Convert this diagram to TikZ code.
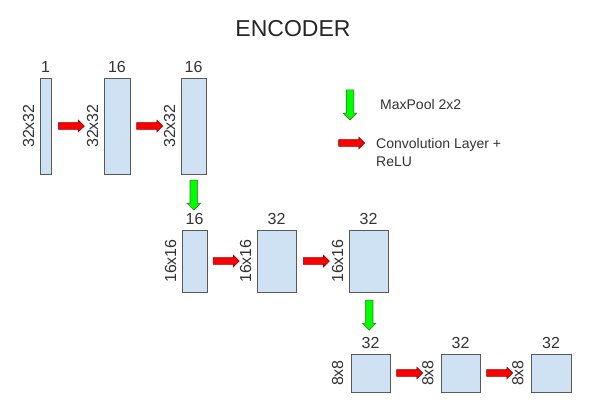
\documentclass[tikz,border=0pt]{standalone}
\usepackage{fontspec}
\setmainfont{Liberation Sans}
\usetikzlibrary{positioning,shapes.arrows}
\definecolor{boxblue}{HTML}{CFE2F3}
\definecolor{boxline}{HTML}{595959}
\definecolor{convred}{HTML}{FF0000}
\definecolor{convdark}{HTML}{990000}
\definecolor{poolgreen}{HTML}{00FF00}
\definecolor{pooldark}{HTML}{38761D}
\definecolor{txt}{HTML}{333333}
\tikzset{
  layer/.style={draw=boxline, fill=boxblue, line width=0.8pt, inner sep=0pt},
  convarrow/.style={single arrow, draw=convdark, fill=convred, line width=0.6pt,
    inner xsep=0pt, inner ysep=3pt, minimum height=26pt,
    single arrow head extend=2.5pt},
  poolarrow/.style={single arrow, draw=pooldark, fill=poolgreen, line width=0.6pt,
    inner xsep=0pt, inner ysep=3.5pt, minimum height=30pt,
    single arrow head extend=3pt, rotate=-90},
  chan/.style={text=txt, font=\fontsize{16}{19}\selectfont, inner sep=0pt},
  size/.style={chan, rotate=90, anchor=south},
  legend/.style={text=txt, font=\fontsize{14}{18}\selectfont, inner sep=0pt},
}
\begin{document}
\begin{tikzpicture}[x=1pt, y=-1pt]
    \fill[white] (0,0) rectangle (591,410);
    \useasboundingbox (0,0) rectangle (591,410);
    \node[text=black!85, font=\fontsize{23}{27}\selectfont, inner sep=0pt, anchor=base] (title) at (293,36) {ENCODER};
    % first block, 32x32
    \node[layer, minimum width=11pt, minimum height=96pt] (c1) at (45.5,126) {};
    \node[layer, minimum width=26pt, minimum height=96pt] (c2) at (117,126) {};
    \node[layer, minimum width=25pt, minimum height=96pt] (c3) at (193.5,126) {};
    % second block, 16x16
    \node[layer, minimum width=25pt, minimum height=62pt] (d1) at (194.5,261) {};
    \node[layer, minimum width=39pt, minimum height=62pt] (d2) at (276.5,261) {};
    \node[layer, minimum width=39pt, minimum height=62pt] (d3) at (368.5,261) {};
    % third block, 8x8
    \node[layer, minimum width=39pt, minimum height=38pt] (e1) at (370.5,373) {};
    \node[layer, minimum width=39pt, minimum height=38pt] (e2) at (460.5,373) {};
    \node[layer, minimum width=40pt, minimum height=38pt] (e3) at (551,373) {};
    % channels
    \foreach \n/\t in {c1/1,c2/16,c3/16,d1/16,d2/32,d3/32,e1/32,e2/32,e3/32}
    \node[chan, above=5pt of \n] (n-\n) {\t};
    % sizes
    \foreach \n in {c1,c2,c3}
    \node[size] (s-\n) at ([xshift=-5pt]\n.west) {32x32};
    \foreach \n in {d1,d2,d3}
    \node[size] (s-\n) at ([xshift=-5pt]\n.west) {16x16};
    \foreach \n in {e1,e2,e3}
    \node[size] (s-\n) at ([xshift=-7pt]\n.west) {8x8};
    % arrows
    \foreach \a/\b in {c1/c2,c2/c3,d1/d2,d2/d3,e1/e2,e2/e3}
    \path (\a.east) -- node[convarrow, pos=.35] {} (\b.west);
    \path (c3.south) -- node[poolarrow, pos=.34] {} (d1.north);
    \path (d3.south) -- node[poolarrow, pos=.34] {} (e1.north);
    % legend
    \node[poolarrow] (lg-pool) at (350,103) {};
    \node[legend, anchor=base west] (lg-pooltext) at (380,109) {MaxPool 2x2};
    \node[convarrow] (lg-conv) at (350,143) {};
    \node[legend, anchor=base west, align=left] (lg-convtext) at (376,166) {Convolution Layer +\\ReLU};
\end{tikzpicture}
\end{document}
